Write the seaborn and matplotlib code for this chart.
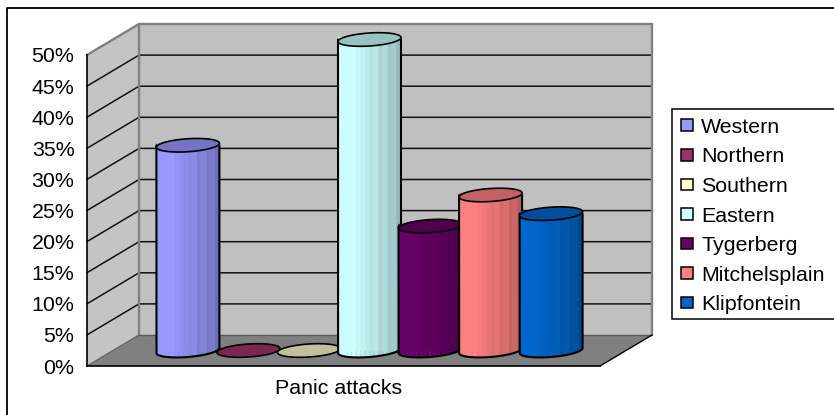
import numpy as np
import pandas as pd
import matplotlib
matplotlib.use("Agg")
import matplotlib.pyplot as plt
import seaborn as sns
from matplotlib.colors import to_rgb
from matplotlib.lines import Line2D
from matplotlib.patches import Patch, Rectangle
from matplotlib.transforms import Affine2D, ScaledTranslation

REGIONS = ["Western", "Northern", "Southern", "Eastern", "Tygerberg", "Mitchelsplain", "Klipfontein"]
VALUES = [33, 0, 0, 50, 20, 25, 22]
COLORS = ["#9999FF", "#993366", "#FFFFCC", "#CCFFFF", "#660066", "#FF8080", "#0066CC"]
CATEGORY = "Panic attacks"
TICKS = list(range(0, 55, 5))

W, H = 834, 415
# front plane of the fake 3D box, in pixels
LEFT, RIGHT, BOTTOM, TOP = 87, 600, 366, 55
DEPTH_X, DEPTH_Y = 52, 31
FONT = 15.4

sns.set_theme(style="white")
plt.rcParams["font.family"] = ["Liberation Sans", "DejaVu Sans"]

fig = plt.figure(figsize=(W / 100, H / 100), dpi=100, facecolor="white")
ax = fig.add_axes([LEFT / W, 1 - BOTTOM / H, (RIGHT - LEFT) / W, (BOTTOM - TOP) / H])
ax.patch.set_visible(False)

df = pd.DataFrame({"symptom": CATEGORY, "region": REGIONS, "value": VALUES})
sns.barplot(data=df, x="symptom", y="value", hue="region", hue_order=REGIONS,
            palette=COLORS, width=0.826, gap=0, legend=False, ax=ax)

ax.set_xlim(-0.5, 0.5)
ax.set_ylim(0, 50)
px_x = 1 / (RIGHT - LEFT)
px_y = 50 / (BOTTOM - TOP)
dx = DEPTH_X * px_x
dy = DEPTH_Y * px_y

# walls and floor
ax.fill([-0.5, -0.5 + dx, -0.5 + dx, -0.5], [0, dy, 50 + dy, 50], color="#C4C4C4", zorder=1, clip_on=False, lw=0)
ax.fill([-0.5 + dx, 0.5 + dx, 0.5 + dx, -0.5 + dx], [dy, dy, 50 + dy, 50 + dy], color="#C0C0C0", zorder=1, clip_on=False, lw=0)
ax.fill([-0.5, 0.5, 0.5 + dx, -0.5 + dx], [0, 0, dy, dy], color="#808080", zorder=1, clip_on=False, lw=0)

for v in TICKS[1:-1]:
    ax.plot([-0.5, -0.5 + dx, 0.5 + dx], [v, v + dy, v + dy], color="#111111", lw=1.1, zorder=1.5, clip_on=False)
# wall borders
ax.plot([-0.5, -0.5 + dx, 0.5 + dx, 0.5 + dx], [50, 50 + dy, 50 + dy, dy], color="#808080", lw=1.7, zorder=1.6, clip_on=False)
ax.plot([-0.5 + dx, -0.5 + dx], [dy, 50 + dy], color="#808080", lw=1.7, zorder=1.6, clip_on=False)
ax.plot([-0.5, -0.5 + dx], [0, dy], color="#666666", lw=1, zorder=1.6, clip_on=False)
ax.plot([-0.5 + dx, 0.5 + dx], [dy, dy], color="#5a5a5a", lw=1, zorder=1.6, clip_on=False)
ax.plot([0.5, 0.5 + dx], [0, dy], color="black", lw=1, zorder=1.6, clip_on=False)

# bars sit half way into the box
mid = ax.transData + Affine2D().translate(DEPTH_X / 2, DEPTH_Y / 2)
t = np.linspace(0, 2 * np.pi, 80)
half_h = 6.5 * px_y
for i, (bar, value, color) in enumerate(zip(ax.patches, VALUES, COLORS)):
    bar.set_transform(mid)
    bar.set_clip_on(False)
    bar.set_linewidth(0)
    bar.set_zorder(2)
    cx = bar.get_x() + bar.get_width() / 2
    half_w = 31.5 * px_x
    rgb = np.array(to_rgb(color))
    z = 3 + i

    if value > 0:
        n = 14
        edges = np.linspace(cx - half_w, cx + half_w, n + 1)
        fine = cx - half_w * np.cos(np.linspace(0, np.pi, 200))
        u = (fine - cx) / half_w
        low = 2.5 * px_y * u - half_h * np.sqrt(np.clip(1 - u ** 2, 0, 1))
        for j in range(n):
            mask = (fine >= edges[j]) & (fine <= edges[j + 1])
            xs = fine[mask]
            shade = 1.0 if j < 3 else 1.0 - 0.28 * (j - 3) / (n - 4)
            if j >= 7 and j % 2 == 0:
                shade = min(shade + 0.05, 1.0)
            ax.fill(np.r_[xs, xs[::-1]], np.r_[low[mask], np.full(mask.sum(), value + 2 * px_y)],
                    color=rgb * shade, lw=0.4, transform=mid, zorder=z, clip_on=False)
        ax.plot(np.r_[cx - half_w, fine, cx + half_w],
                np.r_[value, low, value], color="black", lw=1.5, transform=mid, zorder=z + 0.2, clip_on=False)
    ex = cx + half_w * np.cos(t)
    ey = value + half_h * np.sin(t) + 2 * px_y * np.cos(t)
    cap = "#7A2850" if i == 1 else "#C0C09C" if i == 2 else rgb * 0.76
    ax.fill(ex, ey, facecolor=cap, edgecolor="black", lw=1.2, transform=mid, zorder=z + 0.3, clip_on=False)

# axes
sns.despine(ax=ax, top=True, right=True)
for side in ["left", "bottom"]:
    ax.spines[side].set_color("black")
    ax.spines[side].set_linewidth(1.2)
    ax.spines[side].set_zorder(2)
ax.set_xlabel("")
ax.set_ylabel("")
ax.set_yticks(TICKS)
ax.set_yticklabels([f"{v}%" for v in TICKS])
ax.set_xticks([0])
ax.set_xticks([-0.5, 0.5], minor=True)
ax.tick_params(axis="y", length=4, width=1.2, color="black", pad=5, labelsize=FONT, labelcolor="black")
ax.tick_params(axis="x", which="major", length=0, pad=9, labelsize=FONT, labelcolor="black")
ax.tick_params(axis="x", which="minor", length=4, width=1.2, color="black")
# the category label sits a little left of the axis centre in the original
for label in ax.get_xticklabels():
    label.set_transform(label.get_transform() + ScaledTranslation(-5 / 100, 0, fig.dpi_scale_trans))

# legend box runs off the right edge of the picture
fig.add_artist(Rectangle((672 / W, 1 - 319 / H), 200 / W, 210 / H, transform=fig.transFigure,
                         facecolor="white", edgecolor="black", lw=1.1, zorder=4))
handles = [Patch(facecolor=c, edgecolor="black", linewidth=1.1, label=r) for r, c in zip(REGIONS, COLORS)]
leg = ax.legend(handles=handles, loc="upper left", bbox_to_anchor=(672 / W, 1 - 109 / H),
                bbox_transform=fig.transFigure, borderaxespad=0, fontsize=FONT, frameon=False,
                labelspacing=0.495, handlelength=0.58, handleheight=0.46, handletextpad=0.37,
                borderpad=0.41, labelcolor="black")
leg.set_zorder(20)
fig.add_artist(leg)

# outer chart border: only the left and top edges fall inside the picture
fig.add_artist(Line2D([7 / W, 7 / W, 1], [0, 1 - 8 / H, 1 - 8 / H], transform=fig.transFigure, color="black", lw=1.3))

fig.savefig("out.png", dpi=100)
